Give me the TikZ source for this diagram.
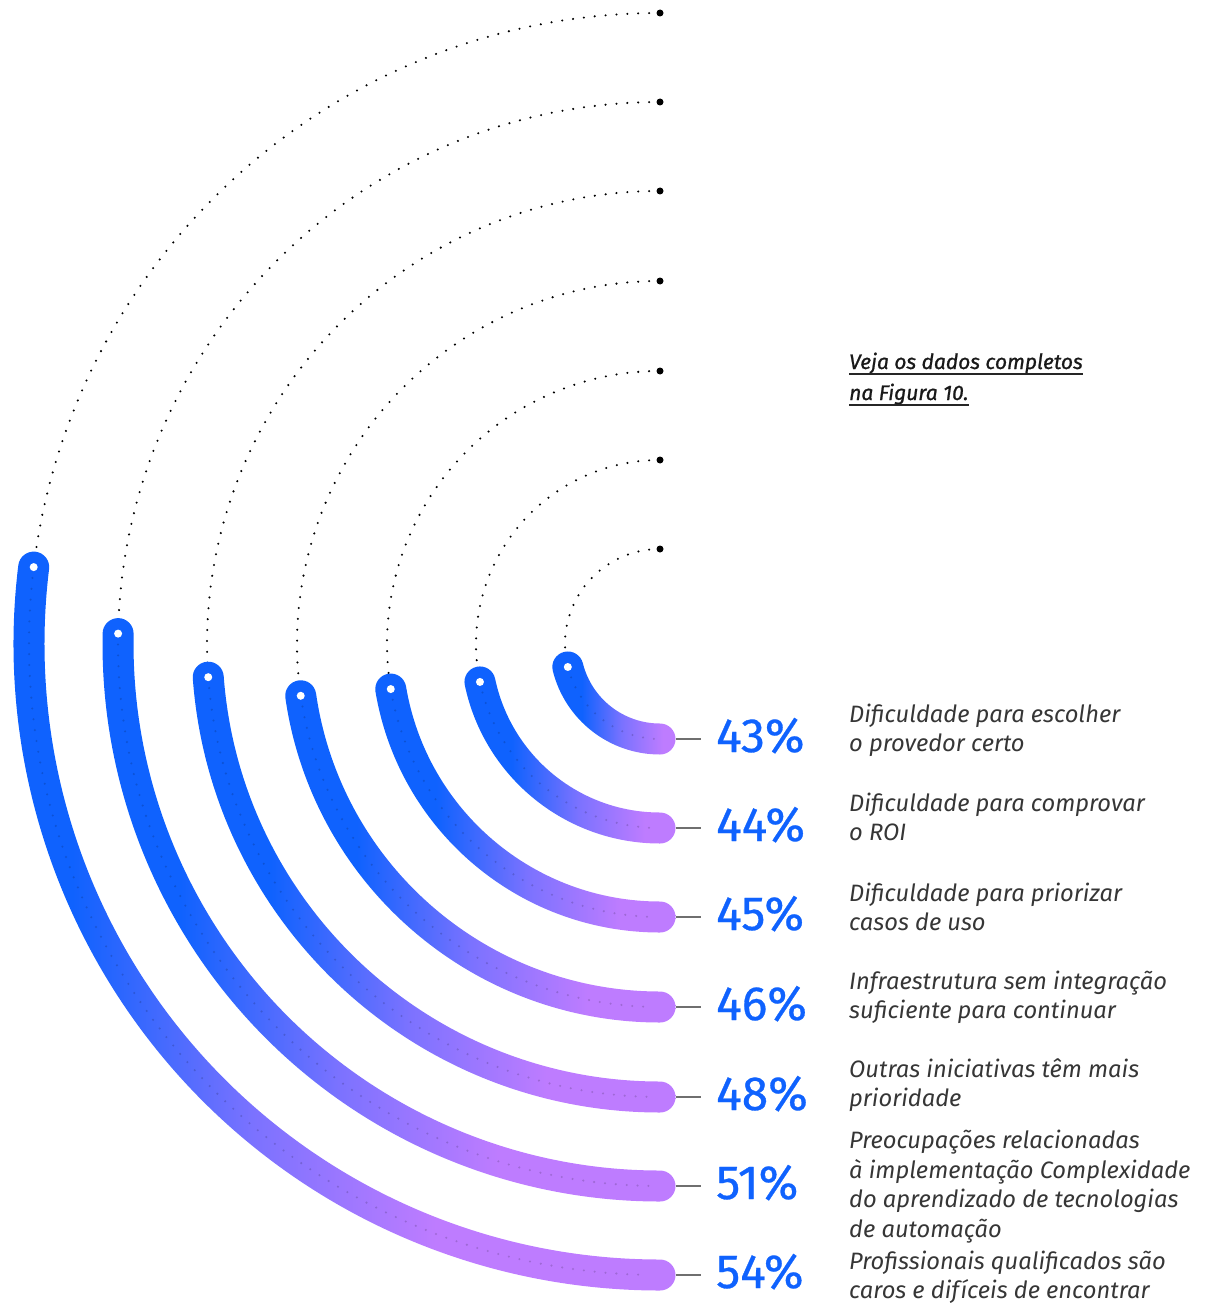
\documentclass[tikz,border=0pt]{standalone}
\usepackage{fontspec}
\setmainfont{Fira Sans}
\newfontfamily\pctfont{Fira Sans}[FakeBold=0.6]
\newfontfamily\linkfont{Fira Sans}[FakeBold=1.0]
\usetikzlibrary{calc}
\definecolor{ibmblue}{HTML}{0F62FE}
\definecolor{ibmpurple}{HTML}{BE7CFF}
\definecolor{txtgray}{HTML}{363636}
\definecolor{rulegray}{HTML}{6F6F6F}
\colorlet{mixb}{ibmpurple!62!ibmblue}
\begin{document}
\begin{tikzpicture}[x=1pt,y=1pt,
  desc/.style={anchor=base west, inner sep=0pt, font=\fontsize{23.7}{29}\selectfont\itshape, text=txtgray},
  pct/.style={anchor=base west, inner sep=0pt, font=\fontsize{48}{48}\pctfont, text=ibmblue},
  guide/.style={line width=2.3pt, line cap=round, dash pattern=on 0pt off 10.9pt},
  innerguide/.style={guide, draw=black, draw opacity=0.16},
  tick/.style={draw=rulegray, line width=1.3pt},
  linktext/.style={anchor=base west, inner sep=0pt, font=\fontsize{21}{26}\linkfont\itshape, text=black!90},
  linkrule/.style={draw=black!85, line width=1.5pt}
]
\useasboundingbox (0,0) rectangle (1205,-1308);
\coordinate (C) at (660,-644);
\foreach \r/\a/\i in {631/173.0/7, 542/178.9/6, 453/184.2/5, 363/188.2/4, 273/189.5/3, 184/191.9/2, 95/194.0/1}{
  \pgfmathsetmacro{\ro}{\r+15.5}
  \pgfmathsetmacro{\ri}{\r-15.5}
  \pgfmathsetmacro{\ca}{\a+180}
  \pgfmathsetmacro{\cb}{\a+360}
  \pgfmathsetmacro{\tt}{(\r-95)/536}
  \pgfmathsetmacro{\fb}{25+50*(0.25-0.13*\tt)}
  \pgfmathsetmacro{\fp}{25+50*(0.9-0.25*\tt)}
  \pgfmathsetmacro{\fm}{(\fb+\fp)/2}
  \pgfdeclarehorizontalshading{arcgrad\i}{100bp}{color(0bp)=(ibmblue); color(\fb bp)=(ibmblue); color(\fm bp)=(mixb); color(\fp bp)=(ibmpurple); color(100bp)=(ibmpurple)}
  % dotted guide from the top
  \draw[guide] (C) ++(90:\r) arc[start angle=90, end angle=\a, radius=\r];
  \fill (C) ++(90:\r) circle (3.5);
  % thick gradient band
  \shade[shading=arcgrad\i] (C) ++(\a:\ro) arc[start angle=\a, end angle=270, radius=\ro]
     arc[start angle=-90, end angle=90, radius=15.5]
     arc[start angle=270, end angle=\a, radius=\ri]
     arc[start angle=\ca, end angle=\cb, radius=15.5] -- cycle;
  \draw[innerguide] (C) ++(\a:\r) arc[start angle=\a, end angle=269, radius=\r];
  \fill[white] (C) ++(\a:\r) circle (4);
  \coordinate (e\i) at ($(C)+(15.5,-\r)$);
}
% percentages
\node[pct] (p1) at (716,-752) {43\%};
\node[pct] (p2) at (716,-841) {44\%};
\node[pct] (p3) at (716,-930) {45\%};
\node[pct] (p4) at (716,-1020) {46\%};
\node[pct] (p5) at (716,-1110) {48\%};
\node[pct] (p6) at (716,-1199) {51\%};
\node[pct] (p7) at (716,-1288) {54\%};
\foreach \i in {1,...,7}{
  \draw[tick, shorten >=15pt] (e\i) -- (e\i -| p\i.west);
}
% descriptions
\node[desc] (d1a) at (849,-722) {Dificuldade para escolher};
\node[desc] (d1b) at (849,-751) {o provedor certo};
\node[desc] (d2a) at (849,-811) {Dificuldade para comprovar};
\node[desc] (d2b) at (849,-840) {o ROI};
\node[desc] (d3a) at (849,-901) {Dificuldade para priorizar};
\node[desc] (d3b) at (849,-930) {casos de uso};
\node[desc] (d4a) at (849,-989) {Infraestrutura sem integração};
\node[desc] (d4b) at (849,-1018) {suficiente para continuar};
\node[desc] (d5a) at (849,-1077) {Outras iniciativas têm mais};
\node[desc] (d5b) at (849,-1106) {prioridade};
\node[desc] (d6a) at (849,-1148) {Preocupações relacionadas};
\node[desc] (d6b) at (849,-1178) {à implementação Complexidade};
\node[desc] (d6c) at (849,-1207) {do aprendizado de tecnologias};
\node[desc] (d6d) at (849,-1237) {de automação};
\node[desc] (d7a) at (849,-1269) {Profissionais qualificados são};
\node[desc] (d7b) at (849,-1298) {caros e difíceis de encontrar};
% link text
\node[linktext] (v1) at (849,-369) {Veja os dados completos};
\node[linktext] (v2) at (849,-400) {na Figura 10.};
\draw[linkrule] ([yshift=-5pt]v1.base west) -- ([yshift=-5pt]v1.base east);
\draw[linkrule] ([yshift=-5pt]v2.base west) -- ([yshift=-5pt]v2.base east);
\end{tikzpicture}
\end{document}
